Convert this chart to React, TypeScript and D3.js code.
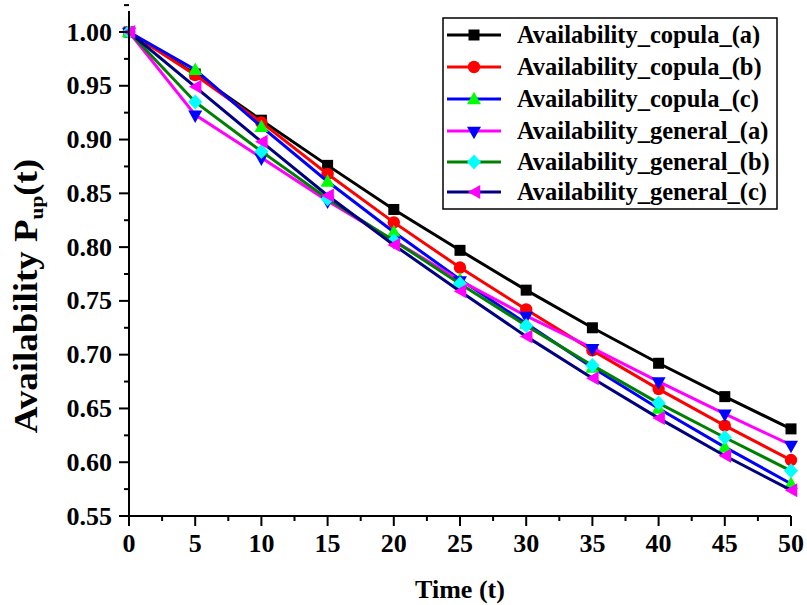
import React from "react";
import * as d3 from "d3";

const times = [0, 5, 10, 15, 20, 25, 30, 35, 40, 45, 50];
const copulaA = [1.0, 0.961, 0.918, 0.876, 0.835, 0.797, 0.76, 0.725, 0.692, 0.661, 0.631];
const copulaB = [1.0, 0.96, 0.916, 0.868, 0.823, 0.781, 0.742, 0.704, 0.668, 0.634, 0.602];
const copulaC = [1.0, 0.965, 0.912, 0.861, 0.814, 0.77, 0.729, 0.688, 0.65, 0.614, 0.58];
const generalA = [1.0, 0.923, 0.883, 0.843, 0.806, 0.769, 0.736, 0.706, 0.675, 0.645, 0.616];
const generalB = [1.0, 0.935, 0.889, 0.845, 0.806, 0.766, 0.727, 0.69, 0.655, 0.623, 0.592];
const generalC = [1.0, 0.949, 0.898, 0.848, 0.802, 0.759, 0.717, 0.678, 0.641, 0.606, 0.574];

const seriesNames = [
  "Availability_copula_(a)",
  "Availability_copula_(b)",
  "Availability_copula_(c)",
  "Availability_general_(a)",
  "Availability_general_(b)",
  "Availability_general_(c)",
];
const seriesValues = [copulaA, copulaB, copulaC, generalA, generalB, generalC];
const lineColors = ["#000000", "#FF0000", "#0000FF", "#FF00FF", "#008000", "#000080"];
const markerColors = ["#000000", "#FF0000", "#00FF00", "#0000FF", "#00FFFF", "#FF00FF"];
const markerShapes = ["square", "circle", "up", "down", "diamond", "left"];

const xTicks = [0, 5, 10, 15, 20, 25, 30, 35, 40, 45, 50];
const yTicks = [0.55, 0.6, 0.65, 0.7, 0.75, 0.8, 0.85, 0.9, 0.95, 1.0];

const FONT = "'Liberation Serif', 'Times New Roman', serif";

function Marker({ shape, x, y, color }: { shape: string; x: number; y: number; color: string }) {
  const s = 11;
  if (shape === "square") {
    return <rect x={x - s / 2} y={y - s / 2} width={s} height={s} fill={color} />;
  }
  if (shape === "circle") {
    return <circle cx={x} cy={y} r={6.2} fill={color} />;
  }
  const h = 12.5;
  const w = 14;
  let pts: [number, number][] = [];
  if (shape === "up") pts = [[x, y - h / 2 - 1], [x + w / 2, y + h / 2 - 1], [x - w / 2, y + h / 2 - 1]];
  if (shape === "down") pts = [[x, y + h / 2 + 2], [x + w / 2, y - h / 2 + 2], [x - w / 2, y - h / 2 + 2]];
  if (shape === "left") pts = [[x - h / 2, y], [x + h / 2, y - w / 2], [x + h / 2, y + w / 2]];
  if (shape === "diamond") pts = [[x, y - 7.5], [x + 7, y], [x, y + 7.5], [x - 7, y]];
  return <polygon points={pts.map((p) => p.join(",")).join(" ")} fill={color} />;
}

export default function App() {
  const W = 807;
  const H = 605;
  const x = d3.scaleLinear().domain([0, 50]).range([129, 791]);
  const y = d3.scaleLinear().domain([0.55, 1.0]).range([516, 32]);
  const yTop = y(1.0195);

  const line = d3
    .line<number>()
    .x((_, i) => x(times[i]))
    .y((d) => y(d));

  const xMinor = d3.range(0, 50, 5).map((v) => v + 2.5);
  const yMinor = d3.range(0, 10).map((i) => 0.575 + i * 0.05);

  const legX = 443;
  const legY = 18;
  const legRowY = [35, 67, 99, 131, 162, 192];

  return (
    <div style={{ position: "absolute", left: 0, top: 0 }}>
      <svg width={W} height={H} style={{ display: "block", background: "#fff" }}>
        {/* series */}
        {seriesValues.map((vals, si) => (
          <g key={si}>
            <path d={line(vals) || ""} fill="none" stroke={lineColors[si]} strokeWidth={3} strokeLinejoin="miter" />
            {vals.map((v, i) => (
              <Marker key={i} shape={markerShapes[si]} x={x(times[i])} y={y(v)} color={markerColors[si]} />
            ))}
          </g>
        ))}

        {/* axes */}
        <g stroke="#000" strokeWidth={2}>
          <line x1={129} x2={129} y1={yTop} y2={517} />
          <line x1={128} x2={791} y1={516} y2={516} />
          {xTicks.map((t) => (
            <line key={"xt" + t} x1={x(t)} x2={x(t)} y1={516} y2={526} />
          ))}
          {xMinor.map((t) => (
            <line key={"xm" + t} x1={x(t)} x2={x(t)} y1={516} y2={521} />
          ))}
          {yTicks.map((t) => (
            <line key={"yt" + t} x1={119} x2={129} y1={y(t)} y2={y(t)} />
          ))}
          {yMinor.map((t) => (
            <line key={"ym" + t} x1={124} x2={129} y1={y(t)} y2={y(t)} />
          ))}
        </g>
        <g fontFamily={FONT} fontWeight="bold" fontSize={26} fill="#000">
          {xTicks.map((t) => (
            <text key={"xl" + t} x={x(t)} y={552} textAnchor="middle">
              {t}
            </text>
          ))}
          {yTicks.map((t) => (
            <text key={"yl" + t} x={112} y={y(t) + 8.5} textAnchor="end">
              {t.toFixed(2)}
            </text>
          ))}
          <text x={460} y={598} textAnchor="middle">
            Time (t)
          </text>
          <text transform={`translate(37, 296) rotate(-90) scale(1.12, 1)`} textAnchor="middle" fontSize={33}>
            Availability P<tspan fontSize={19} dy={6}>up</tspan>
            <tspan dy={-6}>(t)</tspan>
          </text>
        </g>

        {/* legend */}
        <rect x={legX} y={legY} width={334} height={191} fill="#fff" stroke="#000" strokeWidth={1.5} />
        {seriesNames.map((name, si) => (
          <g key={"lg" + si}>
            <line x1={447} x2={501} y1={legRowY[si]} y2={legRowY[si]} stroke={lineColors[si]} strokeWidth={3} />
            <Marker shape={markerShapes[si]} x={474} y={legRowY[si]} color={markerColors[si]} />
            <text x={517} y={legRowY[si] + 8} fontFamily={FONT} fontWeight="bold" fontSize={24.5} fill="#000">
              {name}
            </text>
          </g>
        ))}
      </svg>
    </div>
  );
}
